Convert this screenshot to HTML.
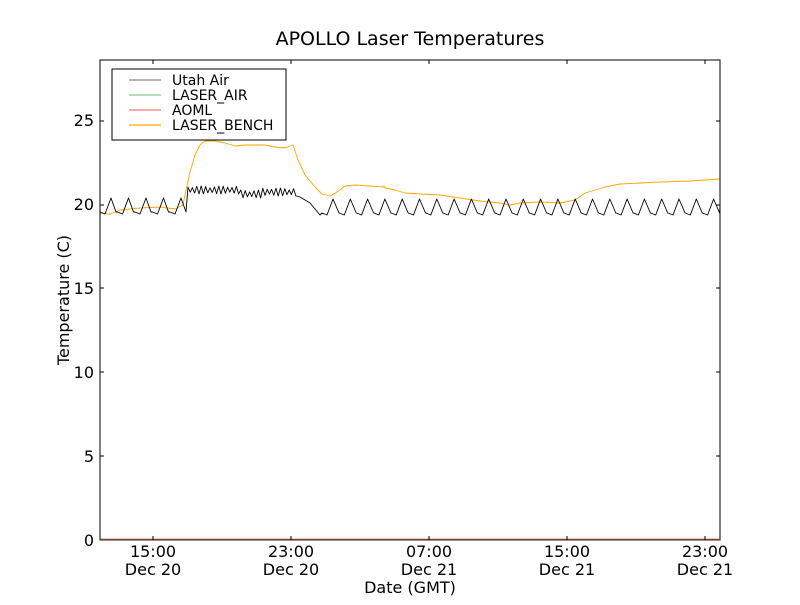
<!DOCTYPE html>
<html><head><meta charset="utf-8"><style>
body{margin:0;background:#fff;}
svg text{font-family:"DejaVu Sans","Liberation Sans",sans-serif;}
</style></head><body>
<svg id="s" width="800" height="600" xmlns="http://www.w3.org/2000/svg">
<rect width="800" height="600" fill="#fff"/>
<text x="410" y="45" font-size="19" text-anchor="middle">APOLLO Laser Temperatures</text>
<g id="plot"></g>
<rect x="100" y="60" width="620" height="480" fill="none" stroke="#000" stroke-width="1"/>
<line x1="100" y1="539.5" x2="720" y2="539.5" stroke="#7a4030" stroke-width="1.5"/>
<g font-size="16" text-anchor="end">
<text x="94" y="546">0</text><text x="94" y="462">5</text><text x="94" y="378">10</text>
<text x="94" y="294">15</text><text x="94" y="210">20</text><text x="94" y="126">25</text>
</g>
<g stroke="#000" stroke-width="1">
<line x1="100" y1="456" x2="104" y2="456"/><line x1="716" y1="456" x2="720" y2="456"/>
<line x1="100" y1="372" x2="104" y2="372"/><line x1="716" y1="372" x2="720" y2="372"/>
<line x1="100" y1="288" x2="104" y2="288"/><line x1="716" y1="288" x2="720" y2="288"/>
<line x1="100" y1="205" x2="104" y2="205"/><line x1="716" y1="205" x2="720" y2="205"/>
<line x1="100" y1="121" x2="104" y2="121"/><line x1="716" y1="121" x2="720" y2="121"/>
<line x1="153" y1="540" x2="153" y2="536"/><line x1="153" y1="60" x2="153" y2="64"/>
<line x1="291" y1="540" x2="291" y2="536"/><line x1="291" y1="60" x2="291" y2="64"/>
<line x1="429" y1="540" x2="429" y2="536"/><line x1="429" y1="60" x2="429" y2="64"/>
<line x1="567" y1="540" x2="567" y2="536"/><line x1="567" y1="60" x2="567" y2="64"/>
<line x1="705" y1="540" x2="705" y2="536"/><line x1="705" y1="60" x2="705" y2="64"/>
</g>
<g font-size="16" text-anchor="middle">
<text x="153" y="557">15:00</text><text x="153" y="575">Dec 20</text>
<text x="291" y="557">23:00</text><text x="291" y="575">Dec 20</text>
<text x="429" y="557">07:00</text><text x="429" y="575">Dec 21</text>
<text x="567" y="557">15:00</text><text x="567" y="575">Dec 21</text>
<text x="705" y="557">23:00</text><text x="705" y="575">Dec 21</text>
<text x="410" y="593">Date (GMT)</text>
</g>
<text font-size="16" text-anchor="middle" transform="translate(69,300) rotate(-90)">Temperature (C)</text>
<rect x="112" y="69" width="174" height="71" fill="#fff" stroke="#000" stroke-width="1"/>
<line x1="129" y1="80" x2="161" y2="80" stroke="#888" stroke-width="1.2"/>
<line x1="129" y1="95" x2="161" y2="95" stroke="#8c8" stroke-width="1.2"/>
<line x1="129" y1="110" x2="161" y2="110" stroke="#f77" stroke-width="1.2"/>
<line x1="129" y1="125" x2="161" y2="125" stroke="#fa0" stroke-width="1.2"/>
<g font-size="14"><text x="172" y="85">Utah Air</text><text x="172" y="100">LASER_AIR</text><text x="172" y="115">AOML</text><text x="172" y="130">LASER_BENCH</text></g>
</svg>
<script>
var g=document.getElementById('plot');
var o=[[100,213],[110,214],[120,210],[140,208],[160,207],[175,209],[183,205],[186,190],[190,172],[195,155],[200,145],[205,141],[215,141],[225,143],[235,146],[245,145],[265,145],[275,147],[285,148],[293,145],[298,160],[305,175],[315,187],[322,194],[330,196],[337,192],[345,186],[355,185],[370,186],[383,187],[384,186],[385,188],[395,190],[405,193],[420,194],[440,195],[460,198],[480,201],[500,203],[510,205],[520,203],[540,202],[560,203],[575,200],[585,193],[595,190],[605,187],[620,184],[640,183],[660,182],[690,181],[705,180],[720,179]];
var b=[];
var x=100;
while(x<182){b.push([x,212]);b.push([x+5,214]);b.push([x+11,198]);b.push([x+16,212]);x+=17.5;}
b.push([186,212]);
var s=1;
for(x=188;x<296;x+=2.2){var base=(x<240)?190:(x<262?194:192);b.push([x,base+(s>0?-4:4)*(0.5+0.5*Math.abs(Math.sin(x*7.3)))]);s=-s;}
b.push([300,197]);b.push([310,203]);b.push([320,215]);
x=322;
while(x<716){b.push([x,213]);b.push([x+5,215]);b.push([x+11,199]);b.push([x+17,213]);x+=17.3;}
b.push([720,206]);
function pl(p,c){var e=document.createElementNS('http://www.w3.org/2000/svg','polyline');e.setAttribute('points',p.map(function(q){return q[0]+','+q[1]}).join(' '));e.setAttribute('fill','none');e.setAttribute('stroke',c);e.setAttribute('stroke-width','0.9');e.setAttribute('stroke-linejoin','round');g.appendChild(e);}
pl(o,'#ffa500');pl(b,'#000');
</script>
</body></html>
